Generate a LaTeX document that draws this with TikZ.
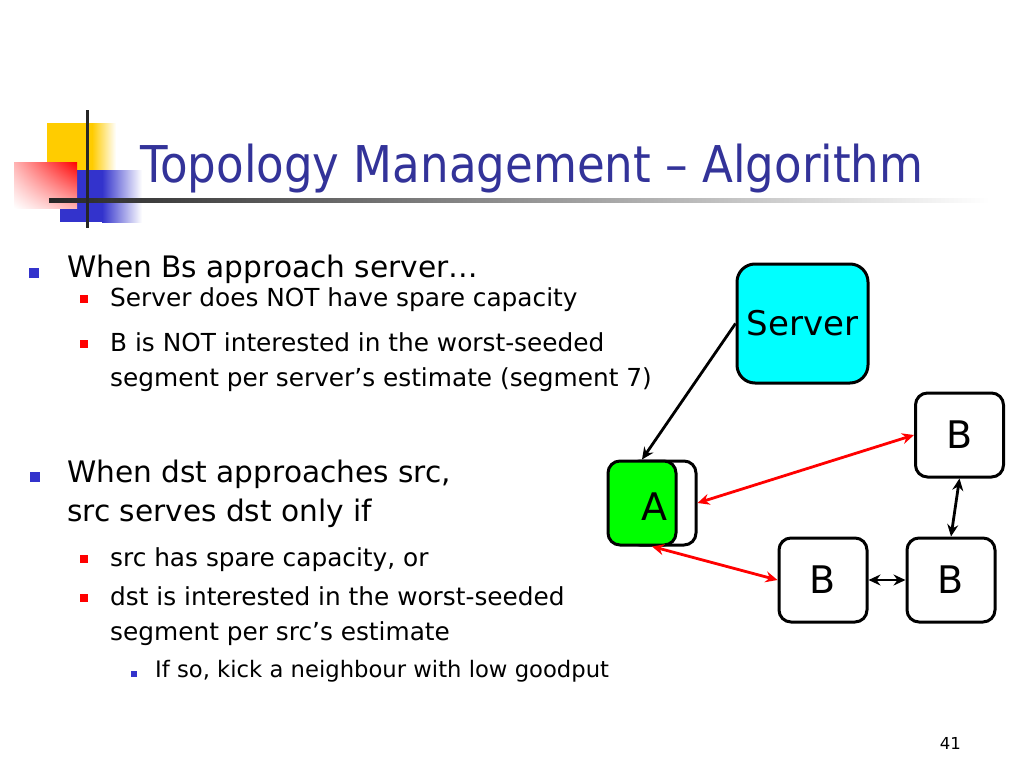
\documentclass[tikz,border=0pt]{standalone}
\usepackage{fontspec}
\setmainfont{DejaVu Sans}
\newfontfamily\titlefont{DejaVu Sans}[FakeStretch=0.89]
\usetikzlibrary{arrows.meta,calc,shadings}
\definecolor{titleblue}{RGB}{51,51,153}
\definecolor{bulblue}{RGB}{51,51,204}
\definecolor{logoyellow}{RGB}{255,204,0}
\definecolor{logoblue}{RGB}{51,51,204}
\definecolor{cyanbox}{RGB}{0,255,255}
\definecolor{greenbox}{RGB}{0,255,0}
\tikzset{
  maintxt/.style={anchor=base west, inner sep=0pt, font=\fontsize{29.6}{32}\selectfont},
  subtxt/.style={anchor=base west, inner sep=0pt, font=\fontsize{24.8}{27}\selectfont},
  subsubtxt/.style={anchor=base west, inner sep=0pt, font=\fontsize{22.7}{25}\selectfont},
  mainbul/.style={fill=bulblue, inner sep=0pt, minimum size=10pt},
  subbul/.style={fill=red, inner sep=0pt, minimum size=8pt},
  subsubbul/.style={fill=bulblue, inner sep=0pt, minimum size=6pt},
  nodebox/.style={draw=black, line width=3pt, rounded corners=12pt, inner sep=0pt,
    minimum width=88pt, minimum height=84pt, fill=white, font=\fontsize{38}{40}\selectfont},
  tipS/.tip={Stealth[length=12pt,width=11pt,inset=4pt]},
  blackarr/.style={line width=2.8pt, black, tipS-tipS},
  redarr/.style={line width=2.8pt, red, tipS-tipS},
}
\begin{document}
\begin{tikzpicture}[x=1pt,y=-1pt]
\useasboundingbox (0,0) rectangle (1024,768);
\fill[white] (0,0) rectangle (1024,768);
% logo
\fill[logoyellow] (47,123) rectangle (92,170);
\shade[left color=logoyellow,right color=white] (92,123) rectangle (116,170);
\fill[logoblue] (60,170) rectangle (102,222);
\shade[left color=logoblue,right color=white] (102,170) rectangle (142,222);
\shade[upper right=red, lower left=white, upper left=red!30!white, lower right=red!30!white] (14,162) rectangle (77,208);
\shade[left color=black!85, middle color=black!22, right color=white] (49,198.5) rectangle (990,202.5);
\draw[line width=3pt, black!85] (87,110) -- (87,228);
% title
\node[anchor=base west, inner sep=0pt, text=titleblue, font=\titlefont\fontsize{50.7}{54}\selectfont] (title) at (140,182.7) {Topology Management – Algorithm};
% bullets and text
\node[mainbul] (mb1) at (34,272.5) {};
\node[maintxt] (t1) at (67,277) {When Bs approach server…};
\node[subbul] (sb1) at (84,299) {};
\node[subtxt] (t2) at (110,306.7) {Server does NOT have spare capacity};
\node[subbul] (sb2) at (84,344) {};
\node[subtxt] (t3) at (110,351.7) {B is NOT interested in the worst-seeded};
\node[subtxt] (t4) at (110,386.7) {segment per server’s estimate (segment 7)};
\node[mainbul] (mb2) at (34.5,477) {};
\node[maintxt] (t5) at (67,482.7) {When dst approaches src,};
\node[maintxt] (t6) at (67,521.7) {src serves dst only if};
\node[subbul] (sb3) at (84,559) {};
\node[subtxt] (t7) at (110,566.7) {src has spare capacity, or};
\node[subbul] (sb4) at (84,598) {};
\node[subtxt] (t8) at (110,605.7) {dst is interested in the worst-seeded};
\node[subtxt] (t9) at (110,640) {segment per src’s estimate};
\node[subsubbul] (ssb1) at (134,673.5) {};
\node[subsubtxt] (t10) at (155,677.3) {If so, kick a neighbour with low goodput};
% diagram
\node[nodebox, fill=cyanbox, rounded corners=18pt, minimum width=131pt, minimum height=119pt, font=\fontsize{34}{36}\selectfont] (srv) at (802.5,323.5) {Server};
\node[nodebox, minimum width=68pt] (Aw) at (662,503) {};
\node[nodebox, fill=greenbox, minimum width=68pt] (A) at (642,503) {};
\node[inner sep=0pt, font=\fontsize{38}{40}\selectfont] (Alab) at (654,507) {A};
\node[nodebox] (Bt) at (959.5,435) {B};
\node[nodebox] (Bm) at (823,580) {B};
\node[nodebox] (Br) at (951,580) {B};
\draw[line width=2.8pt, -tipS] (srv.west) -- (A.north);
\draw[redarr] (Aw.east) -- (Bt.west);
\draw[redarr] ([xshift=10pt]A.south) -- (Bm.west);
\draw[blackarr] (Bt.south) -- (Br.north);
\draw[blackarr] (Bm.east) -- (Br.west);
% page number
\node[anchor=base east, inner sep=0pt, font=\fontsize{16.5}{18}\selectfont] (pg) at (961,749) {41};
\end{tikzpicture}
\end{document}
